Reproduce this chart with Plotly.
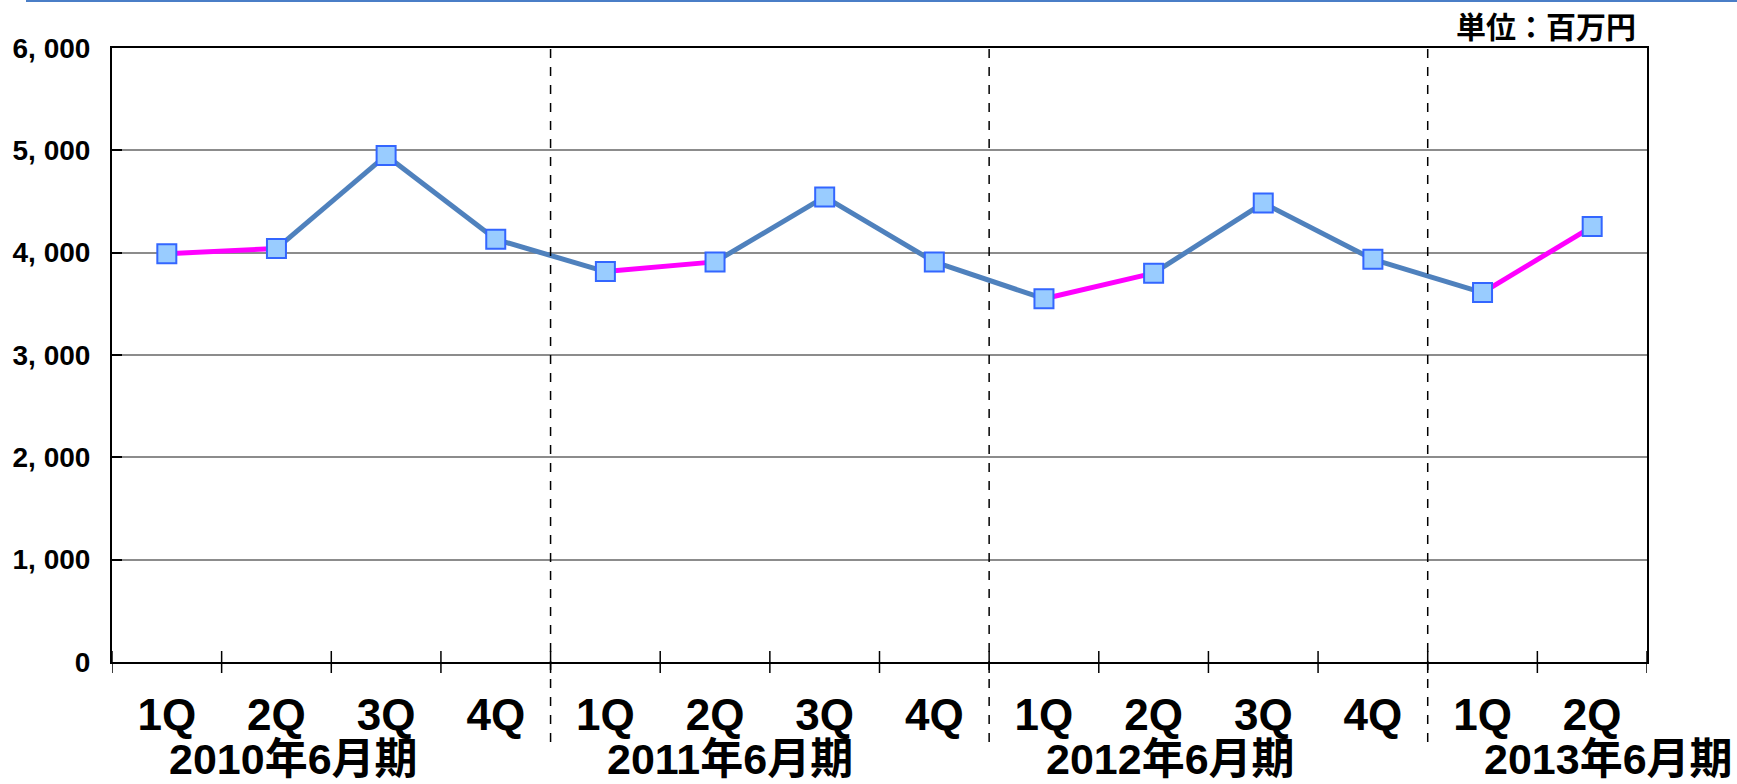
import plotly.graph_objects as go

# Quarterly figures (unit: million yen)
fiscal_years = ["2010年6月期", "2011年6月期", "2012年6月期", "2013年6月期"]
quarters = ["1Q", "2Q", "3Q", "4Q",
            "1Q", "2Q", "3Q", "4Q",
            "1Q", "2Q", "3Q", "4Q",
            "1Q", "2Q"]
year_of_point = ["2010", "2010", "2010", "2010",
                 "2011", "2011", "2011", "2011",
                 "2012", "2012", "2012", "2012",
                 "2013", "2013"]
values = [3990, 4040, 4950, 4130,
          3815, 3910, 4545, 3910,
          3550, 3800, 4485, 3935,
          3610, 4255]
y_tick_values = [0, 1000, 2000, 3000, 4000, 5000, 6000]
y_tick_labels = ["0", "1, 000", "2, 000", "3, 000", "4, 000", "5, 000", "6, 000"]
unit_label = "単位：百万円"

categories = [f"{y}-{q}" for y, q in zip(year_of_point, quarters)]

BLUE = "#4F81BD"
MAGENTA = "#FF00FF"
MARKER_FILL = "#99CCFF"
MARKER_EDGE = "#3366FF"
LABEL_FONT = "Liberation Sans, Arial, Noto Sans CJK JP"

fig = go.Figure()

# Connecting segments: 1Q -> 2Q segments in magenta, the rest in blue
for i in range(len(values) - 1):
    color = MAGENTA if quarters[i] == "1Q" else BLUE
    fig.add_trace(go.Scatter(
        x=[categories[i], categories[i + 1]],
        y=[values[i], values[i + 1]],
        mode="lines",
        line=dict(color=color, width=5),
        hoverinfo="skip",
        showlegend=False,
    ))

fig.add_trace(go.Scatter(
    x=categories, y=values, mode="markers",
    marker=dict(symbol="square", size=19, color=MARKER_FILL,
                line=dict(color=MARKER_EDGE, width=2)),
    showlegend=False,
))

# Geometry of the plotting area in pixels
W, H = 1737, 784
ML, MR, MT, MB = 112, 90, 48, 122
PW, PH = W - ML - MR, H - MT - MB

def px_x(px):
    return (px - ML) / PW

def px_y(py):
    return (H - MB - py) / PH

shapes = []
# Thin blue rule across the top of the page
shapes.append(dict(type="line", xref="paper", yref="paper",
                   x0=px_x(26), x1=px_x(W + 5), y0=px_y(1), y1=px_y(1),
                   line=dict(color="#4A7EC7", width=2)))
# Tick marks crossing the category axis at each boundary
for k in range(len(categories) + 1):
    shapes.append(dict(type="line", xref="x", yref="paper",
                       x0=k - 0.5, x1=k - 0.5, y0=-11 / PH, y1=11 / PH,
                       line=dict(color="black", width=1.5)))
# Dashed separators between fiscal years
for k in range(1, len(categories)):
    if year_of_point[k] != year_of_point[k - 1]:
        shapes.append(dict(type="line", xref="x", yref="paper",
                           x0=k - 0.5, x1=k - 0.5, y0=px_y(742), y1=1,
                           line=dict(color="black", width=1.5, dash="dash")))

annotations = []
# Fiscal-year group labels
groups = []
for idx, y in enumerate(year_of_point):
    if not groups or groups[-1][0] != y:
        groups.append([y, idx])
year_font = dict(size=43, color="black", family=LABEL_FONT, weight="bold")
for gi, (y, first) in enumerate(groups):
    label = fiscal_years[gi]
    if gi < len(groups) - 1:
        annotations.append(dict(x=first, y=px_y(759), xref="x", yref="paper",
                                text=label, showarrow=False, xanchor="left",
                                yanchor="middle", font=year_font))
    else:
        annotations.append(dict(x=px_x(1735), y=px_y(759), xref="paper", yref="paper",
                                text=label, showarrow=False, xanchor="right",
                                yanchor="middle", font=year_font))
# Unit label
annotations.append(dict(x=px_x(1638), y=px_y(25), xref="paper", yref="paper",
                        text=unit_label, showarrow=False, xanchor="right",
                        yanchor="middle",
                        font=dict(size=30, color="black", family="Noto Sans CJK JP",
                                  weight="bold")))

fig.update_layout(
    width=W, height=H,
    margin=dict(l=ML, r=MR, t=MT, b=MB),
    paper_bgcolor="white", plot_bgcolor="white",
    shapes=shapes, annotations=annotations,
    showlegend=False,
    font=dict(family=LABEL_FONT, color="black"),
)

fig.update_xaxes(
    type="category",
    categoryorder="array", categoryarray=categories,
    range=[-0.5, len(categories) - 0.5],
    tickvals=categories, ticktext=quarters,
    ticks="", showgrid=False, zeroline=False,
    showline=True, linecolor="black", linewidth=2, mirror=True,
    tickfont=dict(size=44, family=LABEL_FONT, color="black", weight="bold"),
    ticklabelstandoff=13,
)

fig.update_yaxes(
    range=[0, 6000],
    tickvals=y_tick_values, ticktext=y_tick_labels,
    ticks="inside", ticklen=10, tickwidth=1.5, tickcolor="black",
    showgrid=True, gridcolor="#8C8C8C", gridwidth=1.5,
    zeroline=False,
    showline=True, linecolor="black", linewidth=2, mirror=True,
    tickfont=dict(size=28, family="Liberation Sans Narrow, Liberation Sans",
                  color="black", weight="bold"),
    ticklabelstandoff=14,
)

fig.write_html("out.html")
